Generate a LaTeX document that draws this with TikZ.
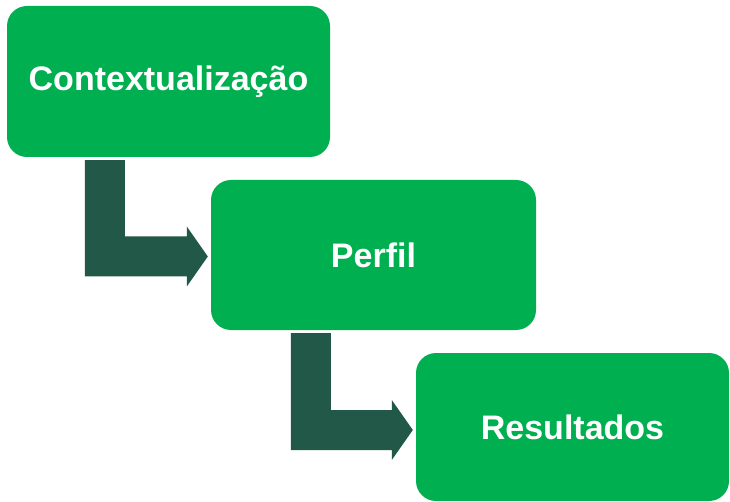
\documentclass[tikz,border=0pt]{standalone}
\usepackage{fontspec}
\setmainfont{Liberation Sans}
\usetikzlibrary{calc}
\definecolor{verde}{RGB}{0,176,80}
\definecolor{verdeescuro}{RGB}{33,88,72}

\begin{document}
\begin{tikzpicture}[x=1pt,y=-1pt,
	etapa/.style={rectangle,rounded corners=20pt,fill=verde,text=white,inner sep=0pt,
		font=\bfseries\fontsize{34}{40}\selectfont},
	seta/.style={fill=verdeescuro}
]
	\useasboundingbox (0,0) rectangle (730,502);
	\node[etapa,minimum width=323pt,minimum height=151pt] (ctx) at (168.5,81.5) {Contextualização};
	\node[etapa,minimum width=325pt,minimum height=150pt] (perfil) at (373.5,255) {Perfil};
	\node[etapa,minimum width=313pt,minimum height=148pt] (res) at (572.5,427) {Resultados};

	% setas em L
	\coordinate (c1) at ($(ctx.south west)+(78,3)$);
	\coordinate (p1) at ($(perfil.west)+(-3,1.5)$);
	\fill[seta] (c1) -- ++(40,0) -- ($(c1 |- p1)+(40,-20)$) -- ($(p1)+(-21,-20)$)
		-- ($(p1)+(-21,-30)$) -- (p1) -- ($(p1)+(-21,30)$) -- ($(p1)+(-21,20)$)
		-- ($(c1 |- p1)+(0,20)$) -- cycle;
	\coordinate (c2) at ($(perfil.south west)+(80,3)$);
	\coordinate (p2) at ($(res.west)+(-3,3)$);
	\fill[seta] (c2) -- ++(40,0) -- ($(c2 |- p2)+(40,-20)$) -- ($(p2)+(-21,-20)$)
		-- ($(p2)+(-21,-30)$) -- (p2) -- ($(p2)+(-21,30)$) -- ($(p2)+(-21,20)$)
		-- ($(c2 |- p2)+(0,20)$) -- cycle;
\end{tikzpicture}
\end{document}
